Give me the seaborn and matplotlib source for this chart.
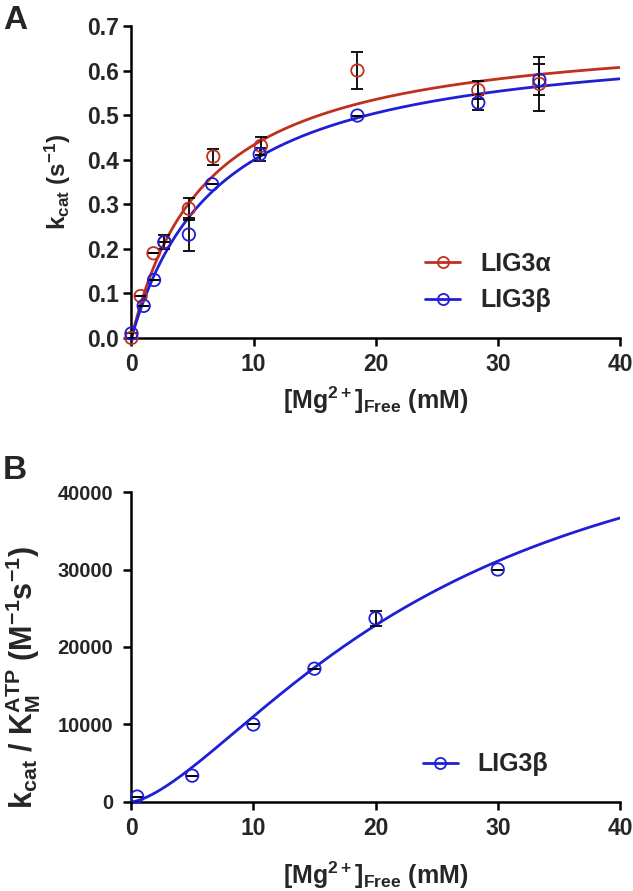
import numpy as np
import pandas as pd
import matplotlib
matplotlib.use("Agg")
import matplotlib.pyplot as plt
from matplotlib.lines import Line2D
import seaborn as sns

# -------------------------------
# Data
# -------------------------------
# Panel A: kcat vs free Mg2+
mg_alpha = [0.0, 0.75, 1.8, 2.7, 4.7, 6.7, 10.6, 18.5, 28.4, 33.4]
kcat_alpha = [0.0, 0.094, 0.19, 0.215, 0.29, 0.407, 0.431, 0.60, 0.556, 0.57]
err_alpha = [0.0, 0.0, 0.0, 0.0, 0.025, 0.018, 0.02, 0.042, 0.02, 0.06]

mg_beta = [0.0, 1.0, 1.85, 2.7, 4.7, 6.6, 10.5, 18.5, 28.4, 33.4]
kcat_beta = [0.01, 0.072, 0.13, 0.215, 0.232, 0.345, 0.412, 0.499, 0.528, 0.579]
err_beta = [0.0, 0.0, 0.0, 0.015, 0.037, 0.0, 0.015, 0.0, 0.017, 0.035]

# Michaelis-Menten fit parameters (Vmax, K)
fit_alpha = (0.701, 6.2)
fit_beta = (0.686, 7.2)

# Panel B: kcat/KM(ATP) vs free Mg2+
mg_b = [0.5, 5, 10, 15, 20, 30]
eff_b = [700, 3400, 10000, 17200, 23700, 30000]
err_b = [0, 0, 0, 0, 1000, 0]

# Hill fit parameters (Vmax, K, n)
fit_b = (54870, 25.1, 1.5)

red = "#c0301f"
blue = "#1f1fd6"

# -------------------------------
# Style
# -------------------------------
sns.set_theme(style="ticks")
plt.rcParams['font.family'] = ['Liberation Sans', 'DejaVu Sans']
plt.rcParams['font.weight'] = 'bold'
plt.rcParams['mathtext.fontset'] = 'custom'
plt.rcParams['mathtext.rm'] = 'Liberation Sans:bold'
plt.rcParams['mathtext.bf'] = 'Liberation Sans:bold'
plt.rcParams['mathtext.it'] = 'Liberation Sans:bold'
plt.rcParams['mathtext.default'] = 'rm'

fig = plt.figure(figsize=(6.33, 8.91), dpi=100)
ax1 = fig.add_axes([0.2077, 0.6207, 0.7717, 0.3502])
ax2 = fig.add_axes([0.2070, 0.0999, 0.7725, 0.3479])


def style_axis(ax, xsize, ysize, ypad):
    sns.despine(ax=ax)
    for s in ["left", "bottom"]:
        ax.spines[s].set_linewidth(1.8)
        ax.spines[s].set_color("black")
    ax.tick_params(axis="both", direction="out", length=6, width=1.8, color="black")
    ax.tick_params(axis="x", labelsize=xsize, pad=5)
    ax.tick_params(axis="y", labelsize=ysize, pad=ypad)
    for lab in ax.get_xticklabels() + ax.get_yticklabels():
        lab.set_fontweight("bold")


def draw_series(ax, x, y, err, color):
    ax.errorbar(x, y, yerr=err, fmt="none", ecolor="black", elinewidth=1.3,
                capsize=4, capthick=1.3, zorder=3, clip_on=False)
    sns.scatterplot(x=x, y=y, ax=ax, marker="o", s=80, facecolors="none",
                    edgecolor=color, linewidth=1.3, zorder=4, clip_on=False)


def legend_handle(color):
    return Line2D([0], [0], color=color, lw=2.0, marker="o", markersize=8,
                  markerfacecolor="none", markeredgecolor=color, markeredgewidth=1.3)


# -------------------------------
# Panel A
# -------------------------------
xs = np.linspace(0, 40, 400)
for (vmax, km), color in [(fit_alpha, red), (fit_beta, blue)]:
    curve = pd.DataFrame({"x": xs, "y": vmax * xs / (km + xs)})
    sns.lineplot(data=curve, x="x", y="y", ax=ax1, color=color, linewidth=2.0, zorder=2)

draw_series(ax1, mg_alpha, kcat_alpha, err_alpha, red)
draw_series(ax1, mg_beta, kcat_beta, err_beta, blue)

ax1.set_xlim(0, 40)
ax1.set_ylim(0, 0.7)
ax1.set_xticks([0, 10, 20, 30, 40])
ax1.set_yticks(np.arange(0, 0.71, 0.1))
ax1.set_yticklabels([f"{v:.1f}" for v in np.arange(0, 0.71, 0.1)])
style_axis(ax1, 16.5, 16.5, 3)
ax1.set_xlabel(r"[Mg$^{2+}$]$_{Free}$ (mM)", fontsize=18, fontweight="bold", labelpad=6)
ax1.set_ylabel(r"k$_{cat}$ (s$^{-1}$)", fontsize=17.5, fontweight="bold", labelpad=10)

ax1.legend([legend_handle(red), legend_handle(blue)], ["LIG3α", "LIG3β"],
           loc="lower right", bbox_to_anchor=(0.905, 0.01), frameon=False,
           handlelength=1.4, handletextpad=0.8, labelspacing=0.5,
           prop={"weight": "bold", "size": 18})

fig.text(0.005, 0.977, "A", fontsize=24, fontweight="bold", va="center")

# -------------------------------
# Panel B
# -------------------------------
vmax, kh, n = fit_b
curve_b = pd.DataFrame({"x": xs, "y": vmax * xs ** n / (kh ** n + xs ** n)})
sns.lineplot(data=curve_b, x="x", y="y", ax=ax2, color=blue, linewidth=2.0, zorder=2)
draw_series(ax2, mg_b, eff_b, err_b, blue)

ax2.set_xlim(0, 40)
ax2.set_ylim(0, 40000)
ax2.set_xticks([0, 10, 20, 30, 40])
ax2.set_yticks([0, 10000, 20000, 30000, 40000])
ax2.set_yticklabels(["0", "10000", "20000", "30000", "40000"])
style_axis(ax2, 16.5, 14.5, 7)
ax2.set_xlabel(r"[Mg$^{2+}$]$_{Free}$ (mM)", fontsize=18, fontweight="bold", labelpad=14)
ax2.set_ylabel(r"k$_{cat}$ / K$_{M}^{ATP}$ (M$^{-1}$s$^{-1}$)", fontsize=22,
               fontweight="bold")
ax2.yaxis.set_label_coords(-0.18, 0.40)

ax2.legend([legend_handle(blue)], ["LIG3β"], loc="lower right",
           bbox_to_anchor=(0.9, 0.01), frameon=False,
           handlelength=1.4, handletextpad=0.8, prop={"weight": "bold", "size": 18})

fig.text(0.005, 0.4725, "B", fontsize=24, fontweight="bold", va="center")

fig.savefig("out.png", dpi=100)
